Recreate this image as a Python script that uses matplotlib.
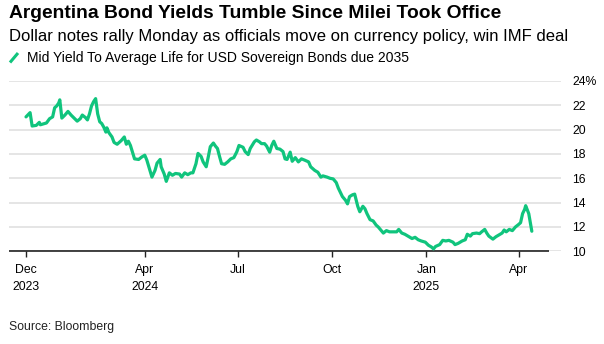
import matplotlib
matplotlib.use("Agg")
import matplotlib.pyplot as plt
from matplotlib import font_manager
from matplotlib.lines import Line2D
import pandas as pd

# Mid yield to average life, Argentina USD sovereign bonds due 2035 (%)
start_date = "2023-12-07"
day_offsets = [
    0, 4, 6, 10, 13, 14, 20, 23, 26, 28, 30, 32, 33, 35, 38, 41, 44, 47, 50, 53,
    55, 58, 60, 62, 64, 66, 68, 70, 72, 74, 76, 78, 79, 81, 84, 86, 89, 91, 93, 96,
    98, 100, 102, 104, 106, 110, 113, 116, 118, 121, 123, 126, 128, 131, 132, 135, 137, 140, 143, 146,
    150, 152, 155, 158, 161, 163, 166, 168, 171, 173, 176, 178, 180, 183, 185, 187, 189, 191, 194, 197,
    200, 203, 206, 208, 212, 214, 217, 219, 223, 225, 228, 230, 233, 235, 238, 240, 242, 245, 248, 251,
    253, 255, 258, 260, 263, 266, 269, 272, 276, 278, 282, 285, 288, 290, 294, 297, 300, 303, 305, 309,
    312, 314, 316, 319, 321, 324, 326, 329, 331, 333, 336, 339, 342, 344, 346, 349, 352, 355, 359, 362,
    364, 367, 370, 373, 377, 380, 383, 386, 390, 393, 396, 398, 400, 404, 407, 410, 413, 417, 419, 422,
    426, 429, 431, 434, 436, 440, 443, 445, 448, 450, 452, 456, 459, 462, 465, 467, 469, 472, 475, 478,
    481, 483, 485, 487, 488, 490, 491, 492, 494,
]
yields = [
    21.05, 21.4, 20.3, 20.35, 20.6, 20.4, 20.55, 20.9, 21.05, 21.8, 21.95, 22.2, 22.45, 20.95, 21.2, 21.5, 21.2, 20.95, 20.7, 20.9,
    21.2, 21.0, 20.8, 21.3, 21.95, 22.3, 22.55, 21.3, 20.65, 20.5, 20.2, 19.8, 20.15, 19.75, 19.4, 18.95, 18.8, 18.95, 19.1, 19.4,
    18.8, 19.05, 18.7, 18.15, 17.6, 17.55, 17.75, 17.9, 17.5, 16.65, 16.1, 16.65, 17.25, 17.55, 16.95, 16.35, 15.75, 16.45, 16.25, 16.4,
    16.35, 16.1, 16.45, 16.3, 16.45, 16.45, 17.2, 18.05, 17.8, 17.35, 16.95, 17.75, 18.6, 18.9, 18.65, 18.45, 17.8, 17.2, 17.15, 17.35,
    17.6, 17.7, 18.2, 18.7, 18.55, 18.2, 17.95, 18.45, 19.0, 19.15, 19.0, 18.85, 18.85, 18.65, 18.15, 18.7, 19.05, 18.45, 18.4, 18.2,
    17.6, 17.55, 18.15, 17.4, 17.7, 17.35, 17.6, 17.5, 17.35, 16.95, 16.65, 16.5, 16.1, 16.2, 16.1, 16.0, 15.95, 15.65, 15.2, 14.5,
    14.2, 13.9, 14.5, 14.65, 14.7, 13.7, 13.25, 13.7, 13.5, 13.1, 12.6, 12.5, 12.15, 12.0, 11.8, 11.5, 11.7, 11.6, 11.6, 11.6,
    11.8, 11.5, 11.4, 11.25, 11.05, 11.15, 10.95, 10.85, 10.75, 10.5, 10.35, 10.2, 10.4, 10.55, 10.9, 10.85, 10.9, 10.75, 10.55, 10.65,
    10.85, 10.95, 11.4, 11.25, 11.45, 11.5, 11.45, 11.6, 11.8, 11.5, 11.25, 11.0, 11.2, 11.35, 11.5, 11.75, 11.6, 11.8, 11.7, 12.0,
    12.2, 12.35, 13.1, 13.45, 13.75, 13.3, 13.1, 12.6, 11.65,
]
tick_dates = ["2023-12-07", "2024-04-01", "2024-07-01", "2024-10-01", "2025-01-01", "2025-04-01"]
tick_labels = ["Dec\n2023", "Apr\n2024", "Jul", "Oct", "Jan\n2025", "Apr"]
y_ticks = [10, 12, 14, 16, 18, 20, 22, 24]
y_labels = ["10", "12", "14", "16", "18", "20", "22", "24%"]

title = "Argentina Bond Yields Tumble Since Milei Took Office"
subtitle = "Dollar notes rally Monday as officials move on currency policy, win IMF deal"
series_name = "Mid Yield To Average Life for USD Sovereign Bonds due 2035"
source = "Source: Bloomberg"

GREEN = "#10c47d"
GRID = "#e3e3e3"
TEXT = "#000000"

installed = {f.name for f in font_manager.fontManager.ttflist}
narrow = "Liberation Sans Narrow" if "Liberation Sans Narrow" in installed else "Liberation Sans"
plt.rcParams["font.family"] = ["Liberation Sans", "DejaVu Sans"]

dates = pd.Timestamp(start_date) + pd.to_timedelta(day_offsets, unit="D")
t0 = pd.Timestamp(start_date)

W, H = 604, 344
fig = plt.figure(figsize=(W / 100, H / 100), dpi=100)
fig.patch.set_facecolor("white")

ax_l, ax_r, ax_t, ax_b = 9, 561, 81, 251.3
ax = fig.add_axes([ax_l / W, 1 - ax_b / H, (ax_r - ax_l) / W, (ax_b - ax_t) / H])
ax.set_facecolor("white")

ax.set_xlim(t0 - pd.Timedelta(days=16.6), t0 + pd.Timedelta(days=522.5))
ax.set_ylim(10, 24)

for v in y_ticks:
    ax.axhline(v, color=GRID, lw=1.3, zorder=1)
ax.plot([0, (549 - ax_l) / (ax_r - ax_l)], [0, 0], transform=ax.transAxes,
        color="#222222", lw=1.2, zorder=3, clip_on=False, solid_capstyle="butt")

ax.plot(dates, yields, color=GREEN, lw=2.3, zorder=4, solid_joinstyle="round",
        solid_capstyle="round", clip_on=False)

for s in ax.spines.values():
    s.set_visible(False)

ax.set_xticks(pd.to_datetime(tick_dates))
ax.set_xticklabels(tick_labels, fontsize=8.8, family=[narrow, "DejaVu Sans"],
                   color=TEXT, linespacing=1.5)
ax.tick_params(axis="x", length=4.5, width=1.0, color="#222222", pad=5)

ax.yaxis.tick_right()
ax.set_yticks(y_ticks)
ax.set_yticklabels(y_labels, fontsize=8.8, family=[narrow, "DejaVu Sans"], color=TEXT)
ax.tick_params(axis="y", length=0, pad=8)
for lbl in ax.get_yticklabels():
    lbl.set_horizontalalignment("left")

fig.text(9 / W, 1 - 13 / H, title, fontsize=13.85, fontweight="bold", color=TEXT,
         va="center", ha="left")
fig.text(9 / W, 1 - 36 / H, subtitle, fontsize=12.0, color=TEXT, va="center", ha="left")

legend_ax = fig.add_axes([0, 0, 1, 1], facecolor="none")
legend_ax.set_axis_off()
legend_ax.set_xlim(0, W)
legend_ax.set_ylim(H, 0)
legend_ax.add_line(Line2D([10, 18], [62.5, 53], color=GREEN, lw=2.2, solid_capstyle="butt"))
fig.text(27 / W, 1 - 58 / H, series_name, fontsize=10.0, family=[narrow, "DejaVu Sans"],
         color=TEXT, va="center", ha="left")

fig.text(9 / W, 1 - 327 / H, source, fontsize=8.8, family=[narrow, "DejaVu Sans"],
         color="#222222", va="center", ha="left")

fig.savefig("out.png", dpi=100, facecolor="white")
